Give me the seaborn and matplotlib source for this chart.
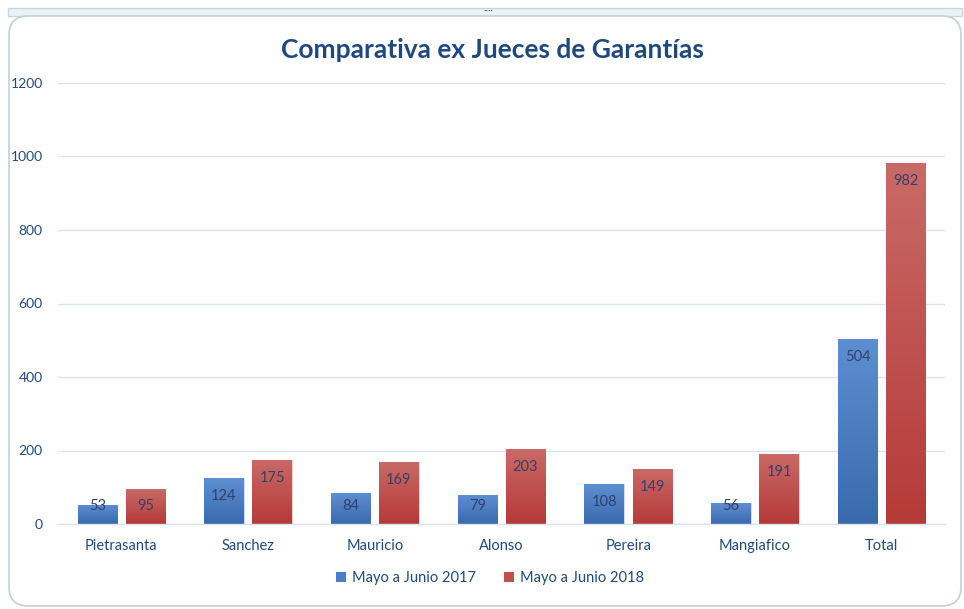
import numpy as np
import pandas as pd
import matplotlib
matplotlib.use("Agg")
import matplotlib.pyplot as plt
import seaborn as sns
from matplotlib.patches import FancyBboxPatch, Rectangle, Patch
from matplotlib.colors import LinearSegmentedColormap

categories = ["Pietrasanta", "Sanchez", "Mauricio", "Alonso", "Pereira", "Mangiafico", "Total"]
series_names = ["Mayo a Junio 2017", "Mayo a Junio 2018"]
values_2017 = [53, 124, 84, 79, 108, 56, 504]
values_2018 = [95, 175, 169, 203, 149, 191, 982]
y_ticks = [0, 200, 400, 600, 800, 1000, 1200]
title = "Comparativa ex Jueces de Garantías"

df = pd.DataFrame({
    "Juez": categories * 2,
    "Periodo": [series_names[0]] * len(categories) + [series_names[1]] * len(categories),
    "Valor": values_2017 + values_2018,
})

sns.set_theme(style="white")
plt.rcParams["font.family"] = ["Lato", "DejaVu Sans"]

text_col = "#1f497d"
label_col = "#34406a"
grid_col = "#d9e2ef"
base_cols = {series_names[0]: "#4a7ec0", series_names[1]: "#c0504d"}
grads = {
    series_names[0]: ("#3a6aae", "#5e8fd2"),
    series_names[1]: ("#b53a38", "#c96a67"),
}

fig = plt.figure(figsize=(9.64, 6.09), dpi=100)

# outer frame
fig.patches.append(Rectangle((8 / 964, 1 - 16 / 609), 954 / 964, 8 / 609, transform=fig.transFigure,
                             facecolor="#eaf3f4", edgecolor="#c9d6d9", lw=1.0, zorder=-2))
fig.patches.append(FancyBboxPatch((9 / 964, 1 - 606 / 609), 952 / 964, 590 / 609,
                                  boxstyle="round,pad=0,rounding_size=0.02",
                                  transform=fig.transFigure, facecolor="white",
                                  edgecolor="#c5cfd6", lw=1.2, zorder=-1,
                                  mutation_aspect=964 / 609))
fig.text(488 / 964, 1 - 11 / 609, "····", ha="center", va="center", fontsize=7, color="#555555")

ax = fig.add_axes([58 / 964, 1 - 524 / 609, 887 / 964, 441 / 609])
ax.set_facecolor("none")
ax.set_zorder(1)

sns.barplot(data=df, x="Juez", y="Valor", hue="Periodo", order=categories,
            hue_order=series_names, palette=base_cols, width=0.76, gap=0.18,
            ax=ax, legend=False, zorder=2)

ax.set_xlim(-0.5, len(categories) - 0.5)
ax.set_ylim(0, 1200)
ax.set_yticks(y_ticks)
ax.set_yticklabels([str(t) for t in y_ticks])
ax.yaxis.grid(True, color=grid_col, lw=1.0, zorder=0)
ax.set_axisbelow(True)
for s in ["top", "right", "left"]:
    ax.spines[s].set_visible(False)
ax.spines["bottom"].set_color(grid_col)
ax.spines["bottom"].set_linewidth(1.0)
ax.tick_params(axis="both", length=0, labelsize=10.5, labelcolor=text_col)
ax.tick_params(axis="y", pad=11, labelsize=10)
ax.tick_params(axis="x", pad=11)
ax.set_xlabel("")
ax.set_ylabel("")

# gradients on bars
bars = [p for p in ax.patches if isinstance(p, Rectangle)]
n = len(categories)
for i, p in enumerate(bars):
    sname = series_names[i // n]
    lo, hi = grads[sname]
    cmap = LinearSegmentedColormap.from_list("g", [lo, hi])
    x0, y0 = p.get_x(), p.get_y()
    w, h = p.get_width(), p.get_height()
    grad = np.linspace(0, 1, 256).reshape(-1, 1)
    im = ax.imshow(grad, cmap=cmap, origin="lower", extent=[x0, x0 + w, y0, y0 + h],
                   aspect="auto", zorder=2.5, interpolation="bicubic")
    im.set_clip_path(p)
    p.set_edgecolor("#f2d9d9" if i >= n else "#d6e2f2")
    p.set_linewidth(0.6)
ax.set_xlim(-0.5, len(categories) - 0.5)
ax.set_ylim(0, 1200)

# value labels
for i, p in enumerate(bars):
    v = p.get_height()
    xc = p.get_x() + p.get_width() / 2
    ax.text(xc, max(v - 49, 49), f"{int(round(v))}", ha="center", va="center",
            fontsize=10.5, color=label_col, zorder=4)

fig.text(492 / 964, 1 - 50 / 609, title, ha="center", va="center", fontsize=19,
         fontweight="bold", color="#1f497d")

handles = [Patch(facecolor=base_cols[s], edgecolor="none", label=s) for s in series_names]
leg = fig.legend(handles=handles, loc="center", bbox_to_anchor=(490 / 964, 1 - 578 / 609),
                 ncol=2, frameon=False, fontsize=10.5, handlelength=0.7, handleheight=0.7,
                 handletextpad=0.4, columnspacing=1.9)
for t in leg.get_texts():
    t.set_color(text_col)

fig.savefig("out.png", dpi=100)
